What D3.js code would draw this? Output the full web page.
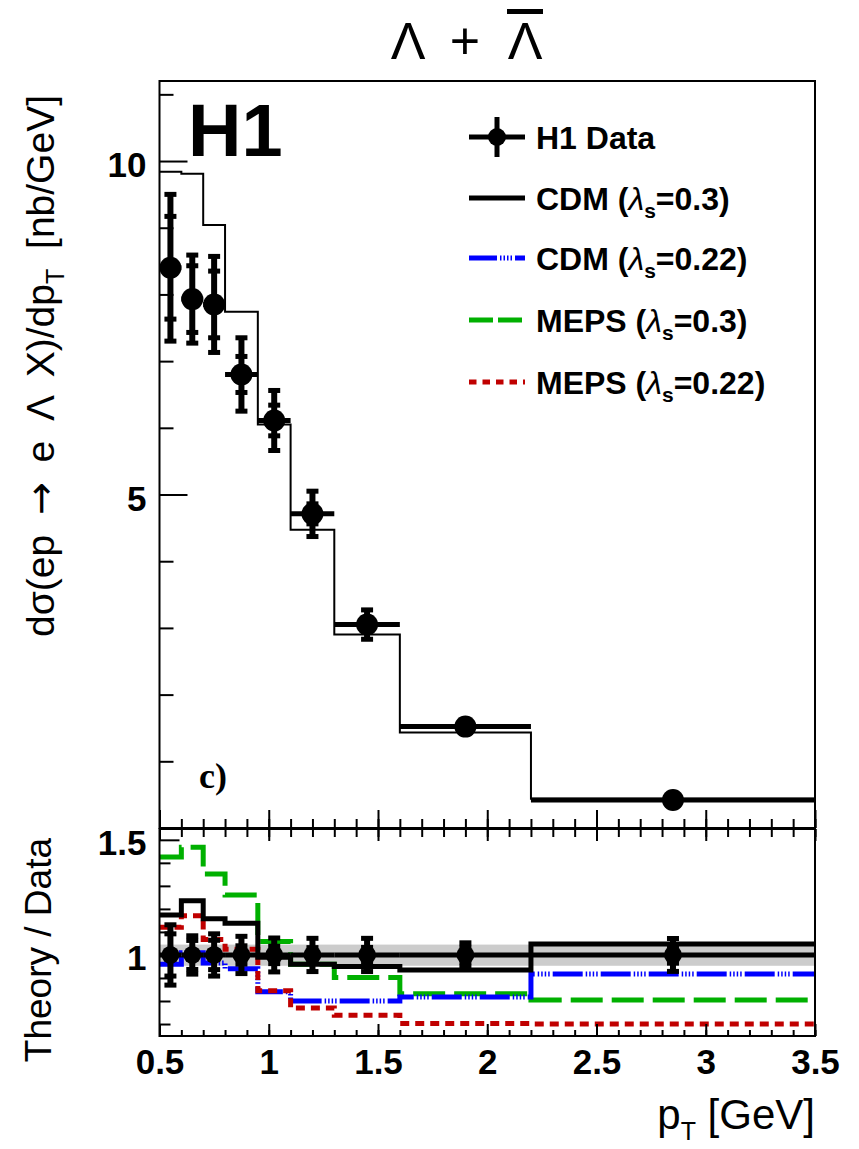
<!DOCTYPE html>
<html>
<head>
<meta charset="utf-8">
<script src="https://cdn.jsdelivr.net/npm/d3@7"></script>
<style>
  html, body { margin: 0; padding: 0; background: #fff; }
  svg { display: block; }
  text { font-family: "Liberation Sans", Arial, Helvetica, sans-serif; fill: #000; }
</style>
</head>
<body>
<svg id="chart" width="859" height="1149"></svg>
<script>
// ---------------- data ----------------
const binEdges   = [0.5, 0.6, 0.7, 0.8, 0.95, 1.1, 1.3, 1.6, 2.2, 3.5];
const pTcenters  = [0.55, 0.65, 0.75, 0.875, 1.025, 1.2, 1.45, 1.9, 2.85];
const dataXsec   = [8.40, 7.93, 7.85, 6.80, 6.11, 4.71, 3.05, 1.52, 0.42];
const statErr    = [0.77, 0.50, 0.50, 0.27, 0.23, 0.15, 0.10, 0.05, 0.015];
const totErr     = [1.10, 0.66, 0.72, 0.55, 0.45, 0.34, 0.22, 0.08, 0.03];
const cdm03Xsec  = [9.84, 9.81, 9.04, 7.74, 6.05, 4.47, 2.90, 1.43, 0.44];

const ratioCDM03   = [1.174, 1.235, 1.157, 1.138, 0.99, 0.96, 0.95, 0.935, 1.048];
const ratioCDM022  = [0.96, 1.01, 0.965, 0.94, 0.84, 0.80, 0.80, 0.817, 0.917];
const ratioMEPS03  = [1.425, 1.468, 1.352, 1.26, 1.058, 0.96, 0.902, 0.832, 0.804];
const ratioMEPS022 = [1.12, 1.17, 1.067, 1.025, 0.845, 0.77, 0.738, 0.702, 0.70];
const normBand     = [0.953, 1.045];

const xTicksMajor   = [0.5, 1, 1.5, 2, 2.5, 3, 3.5];
const xTickLabels   = ["0.5", "1", "1.5", "2", "2.5", "3", "3.5"];
const yTopMajor     = [5, 10];
const yTopMinor     = [1, 2, 3, 4, 6, 7, 8, 9, 11];
const yBotMajor     = [1, 1.5];
const yBotMinor     = [0.7, 0.8, 0.9, 1.1, 1.2, 1.3, 1.4];

const legendLabels = [
  {name: "H1 Data"},
  {name: "CDM (", lam: "0.3)"},
  {name: "CDM (", lam: "0.22)"},
  {name: "MEPS (", lam: "0.3)"},
  {name: "MEPS (", lam: "0.22)"}
];

// ---------------- styles ----------------
const styles = {
  cdm03:   {color: "#000000", width: 5,   dash: null,                        legendDash: null},
  cdm022:  {color: "#0000ff", width: 5,   dash: "30,3,1.5,2,1.5,2,1.5,2,1.5,3", legendDash: "28,3,1.5,2,1.5,2,1.5,2,1.5,3"},
  meps03:  {color: "#00b000", width: 5,   dash: "32,9",                      legendDash: "24,5"},
  meps022: {color: "#c00000", width: 5,   dash: "9,6",                       legendDash: "7.5,6"}
};

// ---------------- layout ----------------
const svg = d3.select("#chart");
const L = 159.5, R = 815;
const topY0 = 81, topY1 = 828;
const botY0 = 829, botY1 = 1036;

const x = d3.scaleLinear().domain([0.5, 3.5]).range([L, R]);
const yTop = d3.scaleLinear().domain([0, 11.2]).range([topY1, topY0]);
const yBot = d3.scaleLinear().domain([0.648, 1.547]).range([botY1, botY0]);

const defs = svg.append("defs");
defs.append("clipPath").attr("id", "clipTop").append("rect")
  .attr("x", L).attr("y", topY0).attr("width", R - L).attr("height", topY1 - topY0);
defs.append("clipPath").attr("id", "clipBot").append("rect")
  .attr("x", L).attr("y", botY0).attr("width", R - L).attr("height", botY1 - botY0);

function histPath(yScale, vals) {
  const pts = vals.map((v, i) => [binEdges[i], v]);
  pts.push([binEdges[binEdges.length - 1], vals[vals.length - 1]]);
  return d3.line().x(d => x(d[0])).y(d => yScale(d[1])).curve(d3.curveStepAfter)(pts);
}

// ---------------- top panel ----------------
const gTop = svg.append("g");
const gTopPlot = gTop.append("g").attr("clip-path", "url(#clipTop)");

gTopPlot.append("path")
  .attr("d", histPath(yTop, cdm03Xsec))
  .attr("fill", "none").attr("stroke", "#000").attr("stroke-width", 2);

function drawData(g, yScale, centers, vals, stat, tot, r) {
  const grp = g.append("g");
  vals.forEach((v, i) => {
    const cx = x(centers[i]), cy = yScale(v);
    grp.append("line").attr("x1", x(binEdges[i])).attr("x2", x(binEdges[i + 1]))
      .attr("y1", cy).attr("y2", cy).attr("stroke", "#000").attr("stroke-width", 5);
    const yHi = yScale(v + tot[i]), yLo = yScale(v - tot[i]);
    grp.append("line").attr("x1", cx).attr("x2", cx).attr("y1", yHi).attr("y2", yLo)
      .attr("stroke", "#000").attr("stroke-width", 6);
    const capW = 12;
    [yHi, yLo].forEach(yy => grp.append("rect").attr("x", cx - capW / 2).attr("y", yy - 2.5)
      .attr("width", capW).attr("height", 5).attr("fill", "#000"));
    [yScale(v + stat[i]), yScale(v - stat[i])].forEach(yy => grp.append("rect")
      .attr("x", cx - capW / 2).attr("y", yy - 2.5).attr("width", capW).attr("height", 5).attr("fill", "#000"));
    grp.append("circle").attr("cx", cx).attr("cy", cy).attr("r", r).attr("fill", "#000");
  });
}
drawData(gTopPlot, yTop, pTcenters, dataXsec, statErr, totErr, 11);

gTop.append("rect").attr("x", L).attr("y", topY0).attr("width", R - L).attr("height", topY1 - topY0)
  .attr("fill", "none").attr("stroke", "#000").attr("stroke-width", 2);

const xMinorVals = d3.range(5, 36).map(d => d / 10);
gTop.append("g").attr("transform", `translate(0,${topY1})`)
  .call(d3.axisBottom(x).tickValues(xMinorVals).tickSize(-9).tickFormat("").tickSizeOuter(0))
  .call(g => g.select(".domain").remove());
gTop.append("g").attr("transform", `translate(0,${topY1})`)
  .call(d3.axisBottom(x).tickValues(xTicksMajor).tickSize(-18).tickFormat("").tickSizeOuter(0))
  .call(g => g.select(".domain").remove());
gTop.append("g").attr("transform", `translate(${L},0)`)
  .call(d3.axisLeft(yTop).tickValues(yTopMinor).tickSize(-14).tickFormat("").tickSizeOuter(0))
  .call(g => g.select(".domain").remove());
const yTopAx = gTop.append("g").attr("transform", `translate(${L},0)`)
  .call(d3.axisLeft(yTop).tickValues(yTopMajor).tickSize(-28).tickPadding(13).tickFormat(d3.format("d")).tickSizeOuter(0))
  .call(g => g.select(".domain").remove());
yTopAx.selectAll("text").attr("font-size", 35).attr("font-weight", "bold")
  .attr("font-family", "Liberation Sans, Arial, sans-serif").attr("dy", "0.45em");

// ---------------- bottom panel ----------------
const gBot = svg.append("g");
const gBotPlot = gBot.append("g").attr("clip-path", "url(#clipBot)");

gBotPlot.append("rect").attr("x", L).attr("width", R - L)
  .attr("y", yBot(normBand[1])).attr("height", yBot(normBand[0]) - yBot(normBand[1]))
  .attr("fill", "#cccccc");

const ratioSeries = [
  {vals: ratioMEPS03, st: styles.meps03},
  {vals: ratioCDM022, st: styles.cdm022},
  {vals: ratioMEPS022, st: styles.meps022},
  {vals: ratioCDM03, st: styles.cdm03}
];
ratioSeries.forEach(s => {
  gBotPlot.append("path").attr("d", histPath(yBot, s.vals))
    .attr("fill", "none").attr("stroke", s.st.color).attr("stroke-width", s.st.width)
    .attr("stroke-dasharray", s.st.dash);
});

const ones = dataXsec.map(() => 1);
drawData(gBotPlot, yBot, pTcenters, ones,
  statErr.map((e, i) => e / dataXsec[i]), totErr.map((e, i) => e / dataXsec[i]), 9);

gBot.append("rect").attr("x", L).attr("y", botY0).attr("width", R - L).attr("height", botY1 - botY0)
  .attr("fill", "none").attr("stroke", "#000").attr("stroke-width", 2);

gBot.append("g").attr("transform", `translate(0,${botY0})`)
  .call(d3.axisTop(x).tickValues(xMinorVals).tickSize(-8).tickFormat("").tickSizeOuter(0))
  .call(g => g.select(".domain").remove());
gBot.append("g").attr("transform", `translate(0,${botY0})`)
  .call(d3.axisTop(x).tickValues(xTicksMajor).tickSize(-12).tickFormat("").tickSizeOuter(0))
  .call(g => g.select(".domain").remove());
gBot.append("g").attr("transform", `translate(0,${botY1})`)
  .call(d3.axisBottom(x).tickValues(xMinorVals).tickSize(-6).tickFormat("").tickSizeOuter(0))
  .call(g => g.select(".domain").remove());
const xBotAx = gBot.append("g").attr("transform", `translate(0,${botY1})`)
  .call(d3.axisBottom(x).tickValues(xTicksMajor).tickSize(-12).tickPadding(13)
    .tickFormat((d, i) => xTickLabels[i]).tickSizeOuter(0))
  .call(g => g.select(".domain").remove());
xBotAx.selectAll("text").attr("font-size", 35).attr("font-weight", "bold")
  .attr("font-family", "Liberation Sans, Arial, sans-serif");
gBot.append("g").attr("transform", `translate(${L},0)`)
  .call(d3.axisLeft(yBot).tickValues(yBotMinor).tickSize(-11).tickFormat("").tickSizeOuter(0))
  .call(g => g.select(".domain").remove());
const yBotAx = gBot.append("g").attr("transform", `translate(${L},0)`)
  .call(d3.axisLeft(yBot).tickValues(yBotMajor).tickSize(-20).tickPadding(13).tickFormat(d => d === 1 ? "1" : "1.5").tickSizeOuter(0))
  .call(g => g.select(".domain").remove());
yBotAx.selectAll("text").attr("font-size", 35).attr("font-weight", "bold")
  .attr("font-family", "Liberation Sans, Arial, sans-serif").attr("dy", "0.42em");
svg.selectAll(".tick line").attr("stroke", "#000").attr("stroke-width", 2);

// ---------------- text ----------------
const titleParts = [{t: "Λ", cx: 408}, {t: "+", cx: 465}, {t: "Λ", cx: 525, bar: true}];
titleParts.forEach(p => {
  svg.append("text").attr("x", p.cx).attr("y", 59).attr("text-anchor", "middle")
    .attr("font-family", "DejaVu Sans, sans-serif").attr("font-size", 52).text(p.t);
  if (p.bar) {
    svg.append("line").attr("x1", p.cx - 18).attr("x2", p.cx + 18)
      .attr("y1", 11.5).attr("y2", 11.5).attr("stroke", "#000").attr("stroke-width", 5);
  }
});

svg.append("text").attr("x", 188).attr("y", 156).attr("font-size", 74).attr("font-weight", "bold").text("H1");
svg.append("text").attr("x", 199).attr("y", 788).attr("font-size", 36).attr("font-weight", "bold")
  .style("font-family", "'Liberation Serif', 'Times New Roman', serif").text("c)");

// y title top
const yt = svg.append("text").attr("transform", "translate(54,95) rotate(-90)")
  .attr("text-anchor", "end").attr("font-size", 39).style("word-spacing", "9px");
yt.append("tspan").text("dσ(ep ");
yt.append("tspan").style("font-family", "'DejaVu Sans', sans-serif").text("→");
yt.append("tspan").text(" e Λ X)/dp");
yt.append("tspan").attr("font-size", 25).attr("dy", 10).text("T");
yt.append("tspan").attr("dy", -10).text(" [nb/GeV]");

// y title bottom
svg.append("text").attr("transform", "translate(51,838) rotate(-90)")
  .attr("text-anchor", "end").attr("font-size", 37).text("Theory / Data");

// x title
const xt = svg.append("text").attr("x", 815).attr("y", 1129).attr("text-anchor", "end").attr("font-size", 42);
xt.append("tspan").text("p");
xt.append("tspan").attr("font-size", 25).attr("dy", 11).text("T");
xt.append("tspan").attr("dy", -11).text(" [GeV]");

// ---------------- legend ----------------
const legX0 = 469, legX1 = 525, legTextX = 536;
const legY = [137, 198, 258, 320, 382];
const legStyles = [null, styles.cdm03, styles.cdm022, styles.meps03, styles.meps022];
const gLeg = svg.append("g");
legendLabels.forEach((lab, i) => {
  const yy = legY[i];
  if (i === 0) {
    gLeg.append("line").attr("x1", legX0).attr("x2", legX1).attr("y1", yy).attr("y2", yy)
      .attr("stroke", "#000").attr("stroke-width", 5);
    gLeg.append("line").attr("x1", 497).attr("x2", 497).attr("y1", yy - 20).attr("y2", yy + 20)
      .attr("stroke", "#000").attr("stroke-width", 5);
    gLeg.append("circle").attr("cx", 497).attr("cy", yy).attr("r", 9).attr("fill", "#000");
  } else {
    const st = legStyles[i];
    gLeg.append("line").attr("x1", legX0).attr("x2", legX1).attr("y1", yy).attr("y2", yy)
      .attr("stroke", st.color).attr("stroke-width", st.width).attr("stroke-dasharray", st.legendDash);
  }
  const t = gLeg.append("text").attr("x", legTextX).attr("y", yy + 12)
    .attr("font-size", 32).attr("font-weight", "bold");
  t.append("tspan").text(lab.name);
  if (lab.lam) {
    t.append("tspan").attr("font-style", "italic").attr("font-weight", "normal").text("λ");
    t.append("tspan").attr("font-size", 21).attr("dy", 8).text("s");
    t.append("tspan").attr("dy", -8).text("=" + lab.lam);
  }
});
</script>
</body>
</html>
